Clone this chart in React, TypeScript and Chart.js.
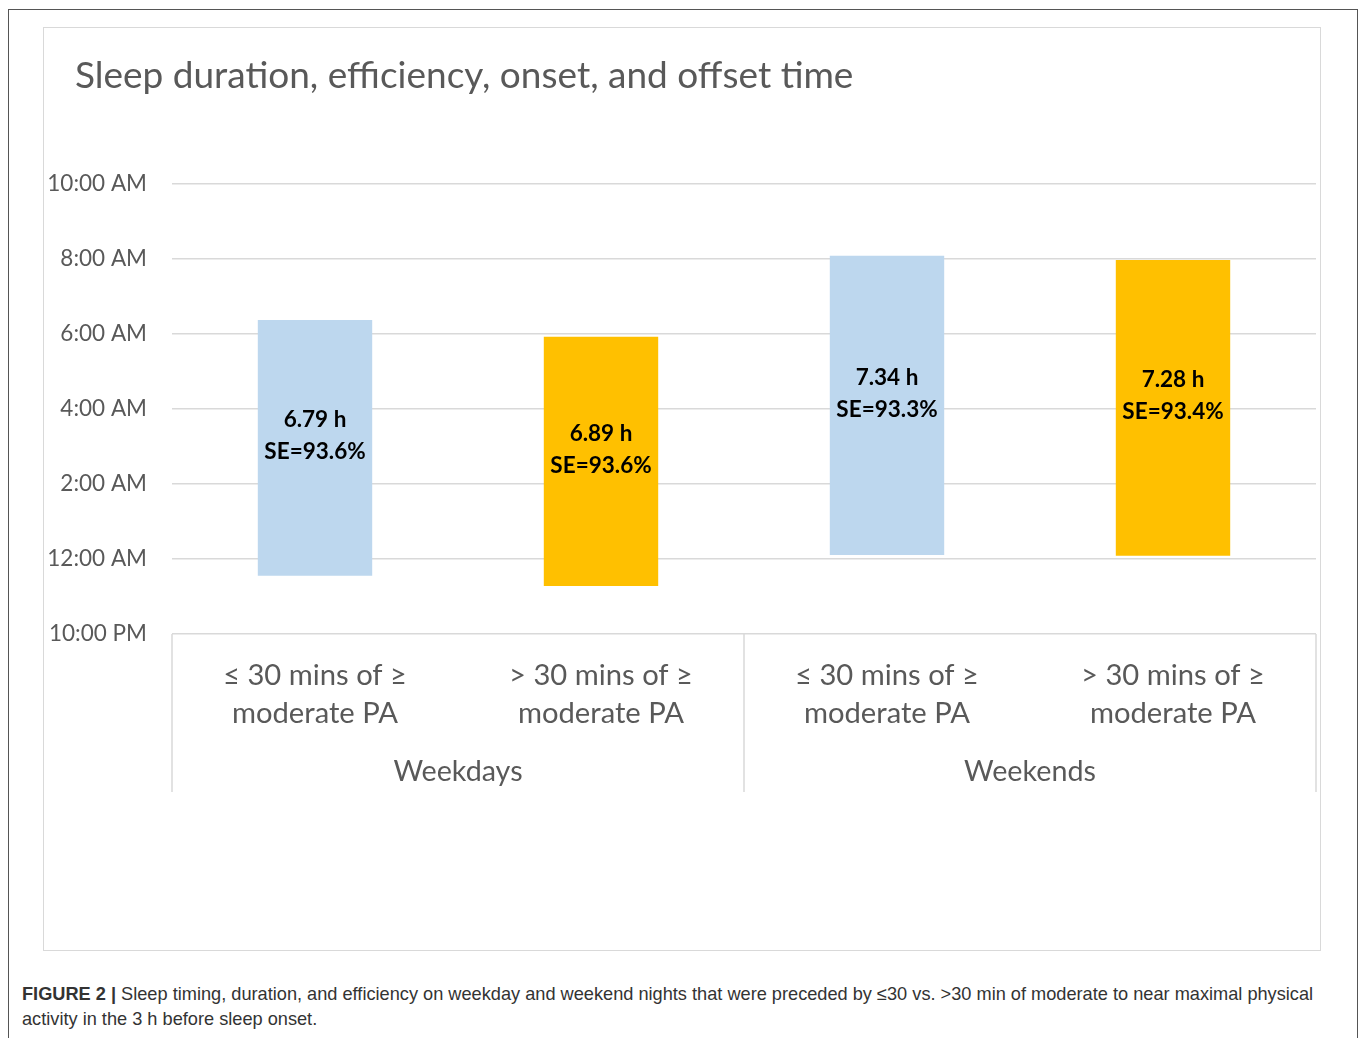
import React, { useEffect, useRef } from "react";
import { Chart, registerables } from "chart.js";

Chart.register(...registerables);

// ---- data ----
const TITLE = "Sleep duration, efficiency, onset, and offset time";
const categoryLines: string[][] = [
  ["≤ 30 mins of ≥", "moderate PA"],
  ["> 30 mins of ≥", "moderate PA"],
  ["≤ 30 mins of ≥", "moderate PA"],
  ["> 30 mins of ≥", "moderate PA"],
];
const groupLabels = ["Weekdays", "Weekends"];
const groupSizes = [2, 2];
// hours after 10:00 PM
const sleepOnset = [1.555, 1.28, 2.107, 2.088];
const sleepOffset = [8.373, 7.928, 10.088, 9.973];
const durationLabels = ["6.79 h", "6.89 h", "7.34 h", "7.28 h"];
const efficiencyLabels = ["SE=93.6%", "SE=93.6%", "SE=93.3%", "SE=93.4%"];
const barColors = ["#BDD7EE", "#FFC000", "#BDD7EE", "#FFC000"];
const yTickLabels = ["10:00 PM", "12:00 AM", "2:00 AM", "4:00 AM", "6:00 AM", "8:00 AM", "10:00 AM"];

const FONT = "Lato, 'Open Sans', sans-serif";

const overlayPlugin = {
  id: "overlay",
  afterDraw(chart: any) {
    const ctx = chart.ctx as CanvasRenderingContext2D;
    const area = chart.chartArea;
    ctx.save();
    // title
    ctx.font = `37px ${FONT}`;
    ctx.fillStyle = "#595959";
    ctx.textAlign = "left";
    ctx.textBaseline = "alphabetic";
    ctx.fillText(TITLE, 31, 60);

    // bar labels
    const meta = chart.getDatasetMeta(0);
    ctx.font = `bold 22.5px ${FONT}`;
    ctx.fillStyle = "#000000";
    ctx.textAlign = "center";
    ctx.textBaseline = "middle";
    meta.data.forEach((bar: any, i: number) => {
      const cx = bar.x;
      const cy = (bar.y + bar.base) / 2 - 12;
      ctx.fillText(durationLabels[i], cx, cy - 16);
      ctx.fillText(efficiencyLabels[i], cx, cy + 16);
    });

    // group dividers and labels
    const catW = (area.right - area.left) / categoryLines.length;
    ctx.strokeStyle = "#d9d9d9";
    ctx.lineWidth = 1.5;
    let start = 0;
    const drawDivider = (px: number) => {
      ctx.beginPath();
      ctx.moveTo(px, area.bottom);
      ctx.lineTo(px, area.bottom + 158);
      ctx.stroke();
    };
    drawDivider(area.left);
    ctx.font = `28.7px ${FONT}`;
    ctx.fillStyle = "#595959";
    groupSizes.forEach((n, g) => {
      const l = area.left + start * catW;
      const r = area.left + (start + n) * catW;
      drawDivider(r);
      ctx.fillText(groupLabels[g], (l + r) / 2, area.bottom + 138);
      start += n;
    });
    ctx.restore();
  },
};

export default function App() {
  const ref = useRef<HTMLCanvasElement | null>(null);
  useEffect(() => {
    if (!ref.current) return;
    const chart = new Chart(ref.current, {
      type: "bar",
      data: {
        labels: categoryLines as any,
        datasets: [
          {
            data: sleepOnset.map((s, i) => [s, sleepOffset[i]]) as any,
            backgroundColor: barColors,
            borderWidth: 0,
            barPercentage: 0.4,
            categoryPercentage: 1,
          },
        ],
      },
      options: {
        responsive: false,
        animation: false,
        layout: { padding: { top: 156, left: 0, right: 3, bottom: 0 } },
        plugins: { legend: { display: false }, tooltip: { enabled: false }, title: { display: false } },
        scales: {
          x: {
            grid: { display: false },
            border: { display: false },
            ticks: {
              autoSkip: false,
              maxRotation: 0,
              minRotation: 0,
              padding: 15,
              color: "#595959",
              font: { family: FONT, size: 29.2, lineHeight: "38px" as any },
            },
            afterFit: (scale: any) => {
              scale.height = 315;
            },
          },
          y: {
            min: 0,
            max: 12,
            grid: { color: "#d9d9d9", lineWidth: 1.5, drawTicks: false },
            border: { display: false },
            ticks: {
              stepSize: 2,
              padding: 25,
              color: "#595959",
              font: { family: FONT, size: 22.5 },
              callback: (v: any) => yTickLabels[Math.round(Number(v) / 2)],
            },
            afterFit: (scale: any) => {
              scale.width = 128;
            },
          },
        },
      },
      plugins: [overlayPlugin],
    });
    return () => chart.destroy();
  }, []);

  return (
    <div style={{ position: "absolute", left: 0, top: 0, width: 1363, height: 1038, overflow: "hidden", background: "#fff" }}>
      <div style={{ position: "absolute", left: 8, top: 9, width: 1348, height: 1200, border: "1px solid #555" }} />
      <div style={{ position: "absolute", left: 43, top: 27, width: 1276, height: 922, border: "1.5px solid #d9d9d9" }} />
      <canvas ref={ref} width={1275} height={921} style={{ position: "absolute", left: 44, top: 28, width: 1275, height: 921 }} />
      <div
        style={{
          position: "absolute",
          left: 22,
          top: 982,
          width: 1330,
          fontFamily: "'Liberation Sans', Arial, sans-serif",
          fontSize: 18.2,
          lineHeight: "25px",
          color: "#333",
          whiteSpace: "nowrap",
        }}
      >
        <div>
          <b>FIGURE 2 |</b> Sleep timing, duration, and efficiency on weekday and weekend nights that were preceded by ≤30 vs. &gt;30 min of moderate to near maximal physical
        </div>
        <div>activity in the 3 h before sleep onset.</div>
      </div>
    </div>
  );
}
